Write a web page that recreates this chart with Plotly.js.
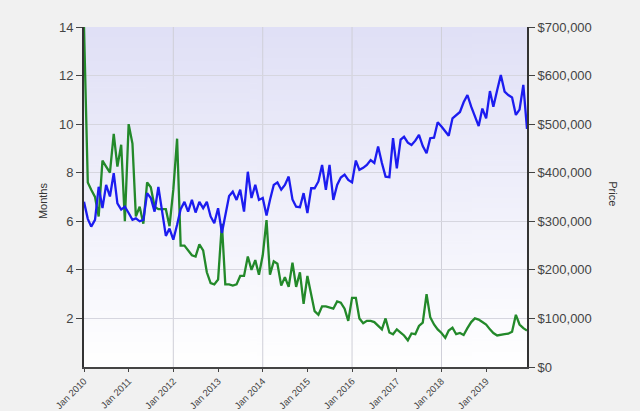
<!DOCTYPE html>
<html>
<head>
<meta charset="utf-8">
<script src="https://cdn.plot.ly/plotly-3.0.1.min.js"></script>
<style>
html,body{margin:0;padding:0;background:#f1f1f1;}
#chart{width:640px;height:411px;}
</style>
</head>
<body>
<div id="chart"></div>
<script>
// Monthly series, Jan 2010 .. Dec 2019
const startYear = 2010;
const monthsOfSupply = [
  14.0, 7.6, 7.3, 7.0, 6.2, 8.5, 8.25, 8.0, 9.6, 8.25, 9.15, 6.0,
  10.0, 9.2, 6.2, 6.6, 5.9, 7.6, 7.4, 6.6, 6.5, 6.5, 6.5, 5.8,
  7.3, 9.4, 5.0, 5.0, 4.8, 4.6, 4.55, 5.05, 4.8, 3.9, 3.45, 3.4,
  3.6, 5.9, 3.4, 3.4, 3.35, 3.4, 3.75, 3.75, 4.55, 4.0, 4.4, 3.8,
  4.6, 6.05, 3.8, 4.35, 4.25, 3.35, 3.7, 3.3, 4.3, 3.3, 3.9, 2.6,
  3.75, 2.9, 2.3, 2.15, 2.5, 2.5, 2.45, 2.4, 2.7, 2.65, 2.4, 1.9,
  2.85, 2.85, 2.0, 1.8, 1.9, 1.9, 1.85, 1.7, 1.55, 2.0, 1.42, 1.35,
  1.55, 1.42, 1.3, 1.1, 1.38, 1.35, 1.69, 1.83, 3.0, 2.05, 1.75, 1.55,
  1.4, 1.2, 1.5, 1.62, 1.35, 1.4, 1.32, 1.6, 1.85, 2.0, 1.95, 1.85,
  1.75, 1.55, 1.4, 1.3, 1.34, 1.35, 1.37, 1.45, 2.15, 1.75, 1.6, 1.5
];
const price = [
  340000, 305000, 289000, 303000, 371000, 327000, 375000, 351000, 399000, 337000, 324000, 330000,
  317000, 303000, 306000, 300000, 303000, 358000, 348000, 320000, 371000, 324000, 270000, 285000,
  262000, 293000, 325000, 340000, 320000, 344000, 318000, 340000, 327000, 340000, 310000, 296000,
  327000, 276000, 312000, 352000, 361000, 344000, 365000, 320000, 402000, 348000, 375000, 344000,
  348000, 312000, 344000, 375000, 380000, 365000, 375000, 392000, 345000, 330000, 329000, 358000,
  317000, 368000, 368000, 382000, 416000, 365000, 416000, 344000, 375000, 390000, 396000, 385000,
  380000, 425000, 406000, 410000, 416000, 426000, 420000, 454000, 420000, 392000, 391000, 471000,
  409000, 468000, 474000, 462000, 457000, 466000, 478000, 455000, 440000, 471000, 472000, 504000,
  495000, 486000, 476000, 512000, 519000, 525000, 545000, 560000, 536000, 515000, 496000, 532000,
  512000, 568000, 536000, 570000, 601000, 567000, 560000, 555000, 519000, 530000, 581000, 490000
];
const leftTicks = [2, 4, 6, 8, 10, 12, 14];
const rightTicks = [0, 100000, 200000, 300000, 400000, 500000, 600000, 700000];
const yearTicks = ['2010','2011','2012','2013','2014','2015','2016','2017','2018','2019'];
const gridYears = ['2012','2014','2016','2018'];

const dates = monthsOfSupply.map((_, i) => {
  const y = startYear + Math.floor(i / 12);
  const m = (i % 12) + 1;
  return y + '-' + (m < 10 ? '0' + m : m) + '-01';
});

// gradient background for plot area
const cv = document.createElement('canvas');
cv.width = 4; cv.height = 256;
const cx = cv.getContext('2d');
const g = cx.createLinearGradient(0, 0, 0, 256);
g.addColorStop(0, '#e0e0f6');
g.addColorStop(1, '#ffffff');
cx.fillStyle = g; cx.fillRect(0, 0, 4, 256);
const bgURL = cv.toDataURL('image/png');

const font = 'Liberation Sans, Arial, sans-serif';

const traces = [
  {
    x: dates, y: price, yaxis: 'y2', type: 'scatter', mode: 'lines',
    line: {color: '#1c1cf0', width: 2.3}, hoverinfo: 'skip', showlegend: false
  },
  {
    x: dates, y: monthsOfSupply, yaxis: 'y', type: 'scatter', mode: 'lines',
    line: {color: '#23892a', width: 2.3}, hoverinfo: 'skip', showlegend: false
  }
];

const shapes = gridYears.map(yr => ({
  type: 'line', xref: 'x', yref: 'paper', x0: yr + '-01-01', x1: yr + '-01-01', y0: 0, y1: 1,
  line: {color: '#cfcfd8', width: 1}, layer: 'below'
}));

const layout = {
  width: 640, height: 411,
  margin: {l: 84, r: 113, t: 27, b: 44, pad: 0},
  paper_bgcolor: '#f1f1f1',
  plot_bgcolor: 'rgba(0,0,0,0)',
  showlegend: false,
  images: [{
    source: bgURL, xref: 'paper', yref: 'paper', x: 0, y: 1, sizex: 1, sizey: 1,
    xanchor: 'left', yanchor: 'top', sizing: 'stretch', layer: 'below'
  }],
  xaxis: {
    type: 'date',
    range: ['2010-01-01', '2019-12-01'],
    tickvals: yearTicks.map(y => y + '-01-01'),
    ticktext: yearTicks.map(y => 'Jan ' + y),
    tickangle: -45,
    tickfont: {family: font, size: 9.5, color: '#444'},
    showgrid: false, zeroline: false,
    showline: true, linecolor: '#444', linewidth: 2,
    ticks: 'outside', ticklen: 3, tickcolor: '#444', tickwidth: 1,
    fixedrange: true
  },
  yaxis: {
    range: [0, 14],
    tickvals: leftTicks,
    tickfont: {family: font, size: 13, color: '#444'},
    showgrid: true, gridcolor: '#d6d6df', gridwidth: 1,
    zeroline: false,
    showline: true, linecolor: '#333', linewidth: 2,
    ticks: 'outside', ticklen: 6, tickcolor: '#444', tickwidth: 1,
    fixedrange: true
  },
  yaxis2: {
    range: [0, 700000],
    tickvals: rightTicks,
    tickformat: '$,.0f',
    overlaying: 'y', side: 'right',
    tickfont: {family: font, size: 13, color: '#444'},
    showgrid: false, zeroline: false,
    showline: true, linecolor: '#333', linewidth: 2,
    ticks: 'outside', ticklen: 6, tickcolor: '#444', tickwidth: 1,
    fixedrange: true
  },
  shapes: shapes,
  annotations: [
    {text: 'Months', xref: 'paper', yref: 'paper', x: -0.109, y: 0.49, showarrow: false,
     textangle: -90, font: {family: font, size: 11, color: '#333'}},
    {text: 'Price', xref: 'paper', yref: 'paper', x: 1.213, y: 0.51, showarrow: false,
     textangle: 90, font: {family: font, size: 11, color: '#333'}}
  ]
};

Plotly.newPlot('chart', traces, layout, {displayModeBar: false, staticPlot: true});
</script>
</body>
</html>
